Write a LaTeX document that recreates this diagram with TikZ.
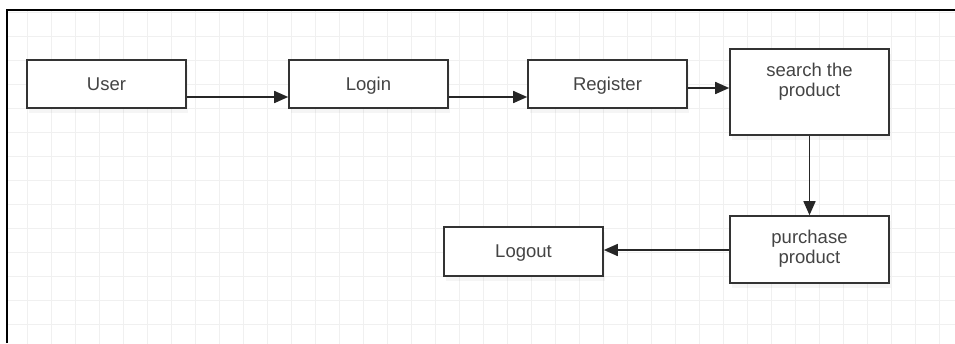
\documentclass[tikz,border=0pt]{standalone}
\usepackage{fontspec}
\setmainfont{Liberation Sans}
\usetikzlibrary{arrows.meta,shadows}
\definecolor{boxline}{HTML}{333333}
\definecolor{txt}{HTML}{444444}
\definecolor{gridc}{HTML}{F0F0F0}

\begin{document}
\begin{tikzpicture}[x=1pt,y=-1pt,
  box/.style={draw=boxline,line width=1.6pt,fill=white,minimum width=159pt,inner sep=0pt,
    drop shadow={opacity=0.08,shadow xshift=2pt,shadow yshift=-5pt}},
  lbl/.style={text=txt,font=\fontsize{18.5}{20}\selectfont,align=center},
  arr/.style={-{Triangle[length=14pt,width=12pt]},line width=1.6pt,draw=black!85}]
\useasboundingbox (0,0) rectangle (955,343);
\fill[white] (0,0) rectangle (955,343);
\draw[gridc,line width=0.8pt,step=24pt,xshift=3pt,yshift=-12pt] (4,-2) grid (955,343);
\draw[black,line width=2pt] (7,343) -- (7,10) -- (955,10);

\node[box,minimum height=48pt] (user) at (106.5,84) {};
\node[lbl,anchor=base] (userlbl) at (106.5,90) {User};

\node[box,minimum height=48pt] (login) at (368.5,84) {};
\node[lbl,anchor=base] (loginlbl) at (368.5,90) {Login};

\node[box,minimum height=48pt] (register) at (607.5,84) {};
\node[lbl,anchor=base] (registerlbl) at (607.5,90) {Register};

\node[box,minimum height=86pt] (search) at (809.5,92) {};
\node[lbl] (searchlbl) at ([yshift=10pt]search.center) {search the\\product};

\node[box,minimum height=67pt] (purchase) at (809.5,249.5) {};
\node[lbl] (purchaselbl) at ([yshift=1pt]purchase.center) {purchase\\product};

\node[box,minimum height=49pt] (logout) at (523.5,251.5) {};
\node[lbl,anchor=base] (logoutlbl) at (523.5,257) {Logout};

\draw[arr] ([yshift=-13pt]user.east) -- ([yshift=-13pt]login.west);
\draw[arr] ([yshift=-13pt]login.east) -- ([yshift=-13pt]register.west);
\draw[arr] ([yshift=-4pt]register.east) -- ([yshift=-4pt]register.east -| search.west);
\draw[arr] (search.south) -- (purchase.north);
\draw[arr] ([yshift=-0.5pt]purchase.west) -- ([yshift=-0.5pt]purchase.west -| logout.east);

\end{tikzpicture}
\end{document}
